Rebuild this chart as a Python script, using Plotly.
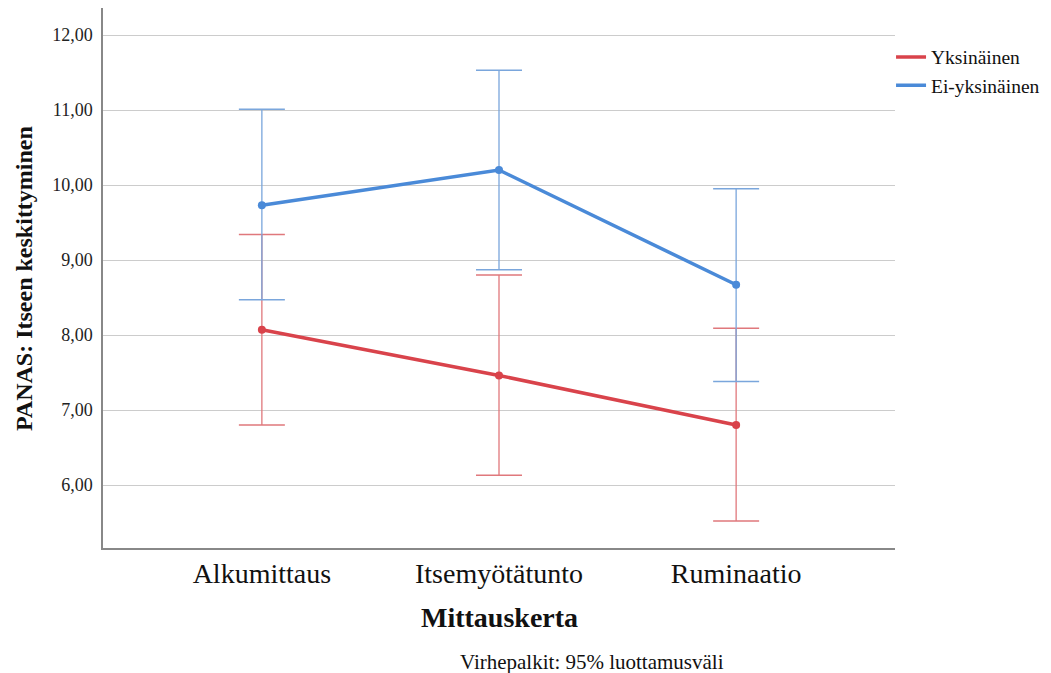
import plotly.graph_objects as go

categories = ["Alkumittaus", "Itsemyötätunto", "Ruminaatio"]
series_names = ["Yksinäinen", "Ei-yksinäinen"]
yks_mean = [8.07, 7.46, 6.80]
yks_low = [6.80, 6.13, 5.52]
yks_high = [9.34, 8.80, 8.09]
ei_mean = [9.73, 10.20, 8.67]
ei_low = [8.47, 8.87, 7.38]
ei_high = [11.01, 11.53, 9.95]
y_ticks = [6, 7, 8, 9, 10, 11, 12]

line_colors = ["#d9434b", "#4a8ad8"]
err_colors = ["#e0787c", "#7aa6dc"]

fig = go.Figure()
xs = list(range(len(categories)))
for name, mean, low, high, lc, ec in [
    (series_names[0], yks_mean, yks_low, yks_high, line_colors[0], err_colors[0]),
    (series_names[1], ei_mean, ei_low, ei_high, line_colors[1], err_colors[1]),
]:
    fig.add_trace(go.Scatter(
        x=xs, y=mean, mode="lines+markers", showlegend=False, name=name,
        line=dict(color=lc, width=3.5),
        marker=dict(color=lc, size=8),
        error_y=dict(type="data", symmetric=False,
                     array=[h - m for h, m in zip(high, mean)],
                     arrayminus=[m - l for m, l in zip(mean, low)],
                     color=ec, thickness=1.3, width=23),
    ))
for name, lc in zip(series_names, line_colors):
    fig.add_trace(go.Scatter(x=[None], y=[None], mode="lines", name=name,
                             line=dict(color=lc, width=3.5)))

# page body adds an 8px offset; figure is sized to compensate
fig.update_layout(
    width=1043, height=665,
    margin=dict(l=95, r=156, t=0, b=125),
    plot_bgcolor="white", paper_bgcolor="white",
    separators=", ",
    font=dict(family="Liberation Serif", color="#222"),
    legend=dict(x=0.995, xanchor="left", y=0.945, yanchor="top",
                font=dict(size=19.5, family="Liberation Serif", color="#111"),
                tracegroupgap=0, itemwidth=30, bgcolor="rgba(0,0,0,0)"),
    xaxis=dict(range=[-0.67, 2.67], tickvals=xs, ticktext=categories,
               tickfont=dict(size=28, family="Liberation Serif", color="#111"),
               showgrid=False, zeroline=False, showline=True, linecolor="#888",
               linewidth=1.5, ticks="", ticklabelstandoff=0),
    yaxis=dict(range=[5.16, 12.36], tickvals=y_ticks, tickformat=".2f",
               tickfont=dict(size=18, family="Liberation Serif", color="#222"),
               showgrid=True, gridcolor="#cccccc", gridwidth=1.3, zeroline=False,
               showline=True, linecolor="#888", linewidth=1.5, ticks="",
               ticklabelstandoff=5),
    annotations=[
        dict(text="<b>PANAS: Itseen keskittyminen</b>", xref="paper", yref="paper",
             x=-0.1, y=0.4996, xanchor="center", yanchor="middle", textangle=-90,
             showarrow=False, font=dict(size=24, family="Liberation Serif", color="#111")),
        dict(text="<b>Mittauskerta</b>", xref="paper", yref="paper",
             x=0.5, y=-0.128, xanchor="center", yanchor="middle",
             showarrow=False, font=dict(size=28, family="Liberation Serif", color="#111")),
        dict(text="Virhepalkit: 95% luottamusväli", xref="paper", yref="paper",
             x=0.617, y=-0.211, xanchor="center", yanchor="middle",
             showarrow=False, font=dict(size=21, family="Liberation Serif", color="#111")),
    ],
)
fig.write_html("out.html")
